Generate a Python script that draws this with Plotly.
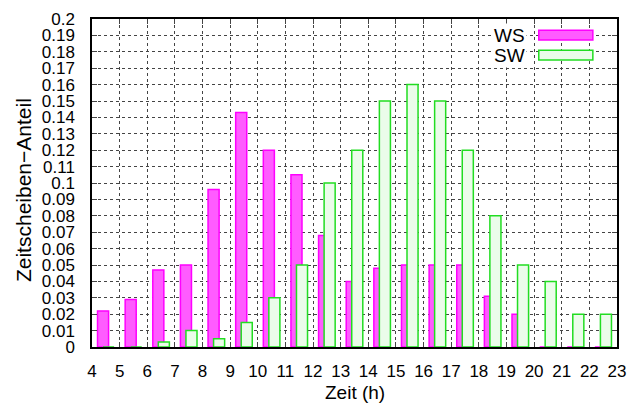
import plotly.graph_objects as go

hours = list(range(4, 23))
ws = [0.022, 0.029, 0.047, 0.050, 0.096, 0.143, 0.120, 0.105, 0.068, 0.040,
      0.048, 0.050, 0.050, 0.050, 0.031, 0.020, 0.0, 0.0, 0.0]
sw = [0.0, 0.0, 0.003, 0.010, 0.005, 0.015, 0.030, 0.050, 0.100, 0.120,
      0.150, 0.160, 0.150, 0.120, 0.080, 0.050, 0.040, 0.020, 0.020]

x_ticks = list(range(4, 24))
y_tickvals = [i / 100 for i in range(0, 21)]
y_ticktext = ["0", "0.01", "0.02", "0.03", "0.04", "0.05", "0.06", "0.07", "0.08", "0.09",
              "0.1", "0.11", "0.12", "0.13", "0.14", "0.15", "0.16", "0.17", "0.18", "0.19", "0.2"]

ws_fill, ws_line = "#ff5cff", "#ff00ff"
sw_fill, sw_line = "#ebfcea", "#22dd22"

fig = go.Figure()
fig.add_trace(go.Bar(x=hours, y=ws, name="WS", offset=0.2, width=0.4,
                     marker=dict(color=ws_fill, line=dict(color=ws_line, width=1.5))))
fig.add_trace(go.Bar(x=hours, y=sw, name="SW", offset=0.4, width=0.4,
                     marker=dict(color=sw_fill, line=dict(color=sw_line, width=1.5))))

fam = "Liberation Sans, Arial, sans-serif"
font = dict(family=fam, size=19, color="black")
tick_font = dict(family=fam, size=17, color="black")

fig.update_layout(
    width=643, height=407,
    margin=dict(l=92, r=26, t=19, b=60),
    paper_bgcolor="white", plot_bgcolor="white",
    barmode="overlay", showlegend=False,
    font=font,
    xaxis=dict(range=[4, 23], tickvals=x_ticks, ticks="inside", ticklen=5,
               showline=True, linecolor="black", linewidth=1.5, mirror="ticks",
               showgrid=True, gridcolor="#444", griddash="dot", gridwidth=1,
               zeroline=False, ticklabelstandoff=8, automargin=False, tickfont=tick_font),
    yaxis=dict(range=[0, 0.2], tickvals=y_tickvals, ticktext=y_ticktext,
               ticks="inside", ticklen=5,
               showline=True, linecolor="black", linewidth=1.5, mirror="ticks",
               showgrid=True, gridcolor="#444", griddash="dot", gridwidth=1,
               zeroline=False, ticklabelstandoff=12, automargin=False, tickfont=tick_font),
)

# axis titles
fig.add_annotation(xref="paper", yref="paper", x=0.5, y=-0.14, text="Zeit (h)",
                   showarrow=False, xanchor="center", yanchor="middle", font=font)
fig.add_annotation(xref="paper", yref="paper", x=-0.1305, y=0.48, text="Zeitscheiben\u2212Anteil",
                   showarrow=False, xanchor="center", yanchor="middle", textangle=-90,
                   font=dict(family=fam, size=21, color="black"))

# legend drawn manually (gnuplot style)
legend_items = [("WS", ws_fill, ws_line, 0.936, 0.966), ("SW", sw_fill, sw_line, 0.875, 0.905)]
for label, fc, lc, y0, y1 in legend_items:
    fig.add_shape(type="rect", xref="paper", yref="paper", x0=0.851, x1=0.954, y0=y0, y1=y1,
                  fillcolor=fc, line=dict(color=lc, width=1.5))
    fig.add_annotation(xref="paper", yref="paper", x=0.829, y=(y0 + y1) / 2, text=label,
                       showarrow=False, xanchor="right", yanchor="middle",
                       font=font, bgcolor="white")

fig.write_html("out.html", config={"displayModeBar": False},
               post_script="document.body.style.margin='0';document.body.style.overflow='hidden';")
